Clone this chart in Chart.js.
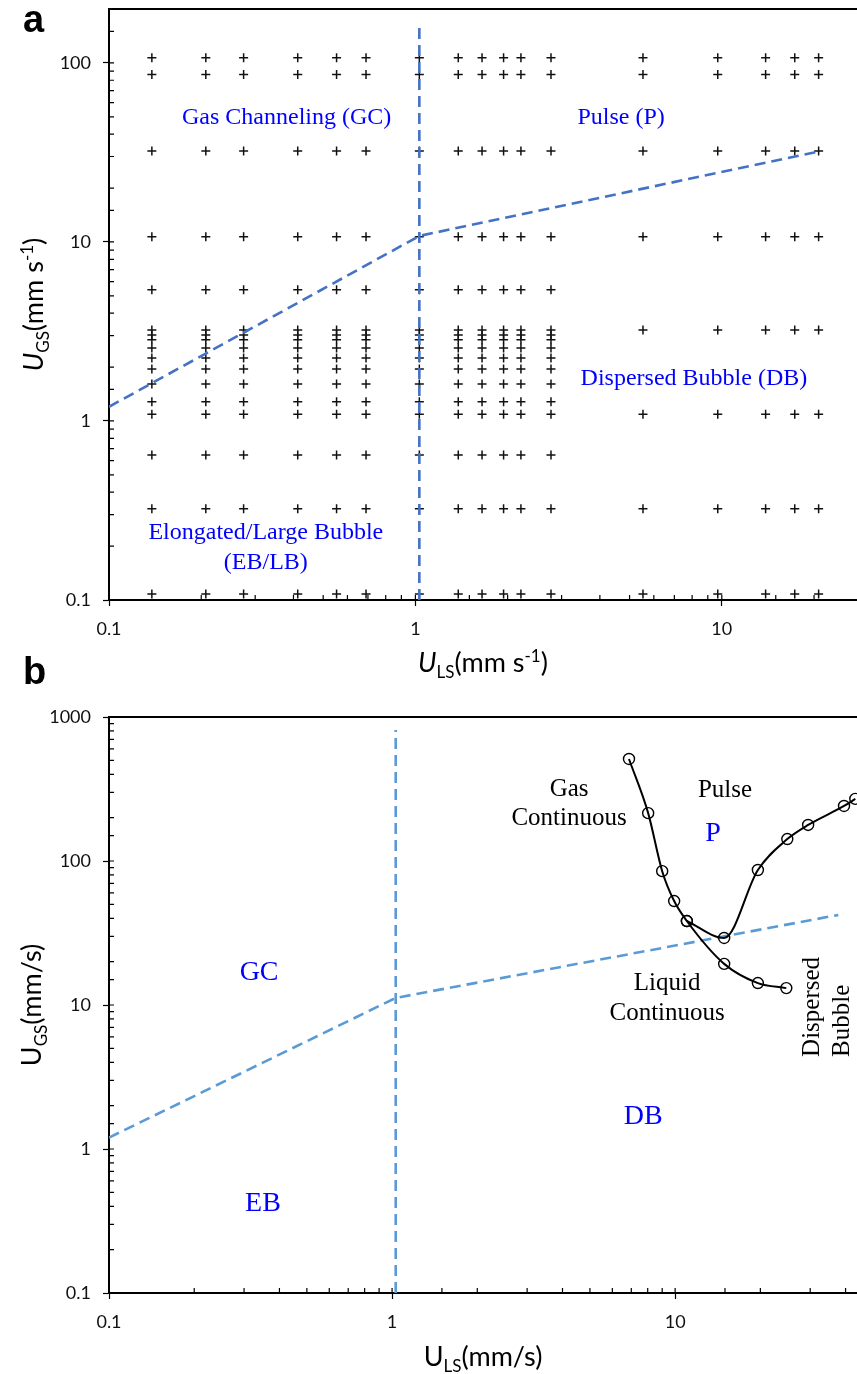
<!DOCTYPE html>
<html>
<head>
<meta charset="utf-8">
<script src="https://cdn.jsdelivr.net/npm/chart.js@4.4.0/dist/chart.umd.min.js"></script>
<style>
  html, body { margin: 0; padding: 0; background: #fff; overflow: hidden; width: 857px; height: 1374px; }
  #wrapA { position: absolute; left: 0; top: -20px; width: 880px; height: 710px; }
  #wrapB { position: absolute; left: 0; top: 650px; width: 890px; height: 724px; }
</style>
</head>
<body>
<div id="wrapA"><canvas id="chartA"></canvas></div>
<div id="wrapB"><canvas id="chartB"></canvas></div>
<script>
// ---- panel a: experimental grid, U_LS and U_GS in mm/s ----
const ulsLow = [0.138, 0.207, 0.275, 0.413, 0.553, 0.69, 1.03, 1.38, 1.65, 1.94, 2.21, 2.77];
const ugsLow = [107, 86, 32.2, 10.7, 5.4, 3.22, 3.02, 2.84, 2.56, 2.25, 1.95, 1.61, 1.28, 1.09, 0.646, 0.323, 0.108];
const ulsHigh = [5.53, 9.7, 13.9, 17.3, 20.7];
const ugsHigh = [107, 86, 32.2, 10.7, 3.22, 1.09, 0.323, 0.108];

// regime boundaries, panel a
const boundA_x = [0.1, 1.03, 20.7];
const boundA_y = [1.2, 10.8, 32];
const vertA_x = [1.03, 1.03];
const vertA_y = [0.1, 163];

// ---- panel b ----
const boundB_x = [0.1, 1.03, 37.7];
const boundB_y = [1.2, 11.2, 42.2];
const vertB_x = [1.03, 1.03];
const vertB_y = [0.1, 813];
const gasLiq_x = [6.87, 8.03, 9.0, 9.92, 11.0, 14.9, 19.6, 24.7];
const gasLiq_y = [511, 215, 85, 52.7, 38.3, 19.3, 14.2, 13.1];
const pulseDb_x = [11.0, 14.9, 19.6, 24.9, 29.5, 39.5, 43.3];
const pulseDb_y = [38.3, 29.2, 86.6, 142, 178, 241, 270];

const zip = (xs, ys) => xs.map((x, i) => ({ x: x, y: ys[i] }));
const grid = (xs, ys) => {
  const pts = [];
  xs.forEach(x => ys.forEach(y => pts.push({ x: x, y: y })));
  return pts;
};

const SANS = 'Lato, "Open Sans", sans-serif';
const SERIF = '"Liberation Serif", "Times New Roman", serif';

function isPow10(v) {
  const l = Math.log10(v);
  return Math.abs(l - Math.round(l)) < 1e-9;
}

function drawRich(ctx, segs, x, y, size, rotate) {
  const fontFor = s => (s.italic ? 'italic ' : '') + ((s.sub || s.sup) ? Math.round(size * 0.62) : size) + 'px ' + SANS;
  ctx.save();
  ctx.translate(x, y);
  if (rotate) ctx.rotate(-Math.PI / 2);
  let total = 0;
  segs.forEach(s => { ctx.font = fontFor(s); total += ctx.measureText(s.t).width; });
  let cx = -total / 2;
  ctx.fillStyle = '#000';
  ctx.textBaseline = 'alphabetic';
  ctx.textAlign = 'left';
  segs.forEach(s => {
    ctx.font = fontFor(s);
    const dy = s.sub ? size * 0.22 : s.sup ? -size * 0.38 : 0;
    ctx.fillText(s.t, cx, dy + size * 0.35);
    cx += ctx.measureText(s.t).width;
  });
  ctx.restore();
}

// inner minor ticks, frame, region labels, axis titles
const decorPlugin = {
  id: 'decor',
  afterDatasetsDraw(chart, args, opts) {
    const ctx = chart.ctx;
    const area = chart.chartArea;
    const xs = chart.scales.x, ys = chart.scales.y;
    ctx.save();
    ctx.strokeStyle = '#000';
    ctx.lineWidth = 1.2;
    ctx.beginPath();
    xs.ticks.forEach(t => {
      const px = xs.getPixelForValue(t.value);
      ctx.moveTo(px, area.bottom);
      ctx.lineTo(px, area.bottom - 5);
    });
    ys.ticks.forEach(t => {
      const py = ys.getPixelForValue(t.value);
      ctx.moveTo(area.left, py);
      ctx.lineTo(area.left + 5, py);
    });
    ctx.stroke();
    ctx.lineWidth = 2;
    ctx.beginPath();
    ctx.moveTo(area.left, area.top);
    ctx.lineTo(area.right, area.top);
    ctx.lineTo(area.right, area.bottom);
    ctx.stroke();

    (opts.labels || []).forEach(l => {
      const px = xs.getPixelForValue(l.x);
      const py = ys.getPixelForValue(l.y);
      ctx.save();
      ctx.translate(px, py);
      if (l.rotate) ctx.rotate(-Math.PI / 2);
      ctx.font = l.size + 'px ' + SERIF;
      ctx.fillStyle = l.color;
      ctx.textAlign = l.align || 'center';
      ctx.textBaseline = 'middle';
      ctx.fillText(l.text, 0, 0);
      ctx.restore();
    });

    const midX = (area.left + Math.min(area.right, 857)) / 2;
    const midY = (area.top + area.bottom) / 2;
    drawRich(ctx, opts.xTitle, midX, opts.xTitleY, opts.titleSize, false);
    drawRich(ctx, opts.yTitle, opts.yTitleX, midY, opts.titleSize, true);

    ctx.font = 'bold 38px "Liberation Sans", Arial, sans-serif';
    ctx.fillStyle = '#000';
    ctx.textAlign = 'left';
    ctx.textBaseline = 'alphabetic';
    ctx.fillText(opts.panel, 23, opts.panelY);
    ctx.restore();
  }
};

function logAxis(min, max, fixed, isX) {
  return {
    type: 'logarithmic',
    min: min,
    max: max,
    border: { color: '#000', width: 2 },
    grid: {
      drawOnChartArea: false,
      drawTicks: true,
      tickLength: 6,
      tickWidth: 1.2,
      tickColor: c => (c.tick && isPow10(c.tick.value)) ? '#000' : 'rgba(0,0,0,0)'
    },
    ticks: {
      autoSkip: false,
      maxRotation: 0,
      padding: isX ? 12 : 12,
      color: '#111',
      font: { family: SANS, size: 18 },
      callback: v => isPow10(v) ? String(Number(v.toPrecision(3))) : ''
    },
    afterFit: s => { if (isX) s.height = fixed; else s.width = fixed; }
  };
}

const dashA = { borderColor: '#4472C4', borderWidth: 2.6, borderDash: [11, 6], pointRadius: 0, showLine: true, fill: false };
const dashB = { borderColor: '#5B9BD5', borderWidth: 2.6, borderDash: [11, 6], pointRadius: 0, showLine: true, fill: false };
const curveStyle = {
  borderColor: '#000', borderWidth: 2, showLine: true, fill: false,
  pointStyle: 'circle', pointRadius: 5.5, pointBorderWidth: 1.4,
  pointBorderColor: '#000', pointBackgroundColor: 'rgba(0,0,0,0)',
  cubicInterpolationMode: 'monotone'
};
const crossStyle = {
  showLine: false, pointStyle: 'cross', pointRadius: 4.5, pointBorderWidth: 1.5,
  pointBorderColor: '#111', borderColor: '#111'
};

new Chart(document.getElementById('chartA'), {
  type: 'scatter',
  data: {
    datasets: [
      Object.assign({ data: zip(boundA_x, boundA_y) }, dashA),
      Object.assign({ data: zip(vertA_x, vertA_y) }, dashA),
      Object.assign({ data: grid(ulsLow, ugsLow) }, crossStyle),
      Object.assign({ data: grid(ulsHigh, ugsHigh) }, crossStyle)
    ]
  },
  options: {
    responsive: true,
    maintainAspectRatio: false,
    animation: false,
    layout: { padding: { top: 29, right: 11, left: 0, bottom: 0 } },
    scales: {
      x: logAxis(0.1, 30, 90, true),
      y: logAxis(0.1, 200, 109, false)
    },
    plugins: {
      legend: { display: false },
      tooltip: { enabled: false },
      decor: {
        panel: 'a', panelY: 52,
        titleSize: 27,
        xTitle: [{ t: 'U', italic: true }, { t: 'LS', sub: true }, { t: '(mm s' }, { t: '-1', sup: true }, { t: ')' }],
        xTitleY: 683,
        yTitle: [{ t: 'U', italic: true }, { t: 'GS', sub: true }, { t: '(mm s' }, { t: '-1', sup: true }, { t: ')' }],
        yTitleX: 34,
        labels: [
          { text: 'Gas Channeling (GC)', x: 0.38, y: 49.3, size: 24, color: '#0000ff' },
          { text: 'Pulse (P)', x: 4.69, y: 49.3, size: 24, color: '#0000ff' },
          { text: 'Dispersed Bubble (DB)', x: 8.11, y: 1.72, size: 24, color: '#0000ff' },
          { text: 'Elongated/Large Bubble', x: 0.325, y: 0.237, size: 24, color: '#0000ff' },
          { text: '(EB/LB)', x: 0.325, y: 0.161, size: 24, color: '#0000ff' }
        ]
      }
    }
  },
  plugins: [decorPlugin]
});

new Chart(document.getElementById('chartB'), {
  type: 'scatter',
  data: {
    datasets: [
      Object.assign({ data: zip(gasLiq_x, gasLiq_y) }, curveStyle),
      Object.assign({ data: zip(pulseDb_x, pulseDb_y) }, curveStyle),
      Object.assign({ data: zip(boundB_x, boundB_y) }, dashB),
      Object.assign({ data: zip(vertB_x, vertB_y) }, dashB)
    ]
  },
  options: {
    responsive: true,
    maintainAspectRatio: false,
    animation: false,
    layout: { padding: { top: 67, right: 17, left: 0, bottom: 0 } },
    scales: {
      x: logAxis(0.1, 50, 81, true),
      y: logAxis(0.1, 1000, 109, false)
    },
    plugins: {
      legend: { display: false },
      tooltip: { enabled: false },
      decor: {
        panel: 'b', panelY: 34,
        titleSize: 27,
        xTitle: [{ t: 'U' }, { t: 'LS', sub: true }, { t: '(mm/s)' }],
        xTitleY: 707,
        yTitle: [{ t: 'U' }, { t: 'GS', sub: true }, { t: '(mm/s)' }],
        yTitleX: 32,
        labels: [
          { text: 'Gas', x: 4.22, y: 316, size: 25, color: '#000' },
          { text: 'Continuous', x: 4.22, y: 199, size: 25, color: '#000' },
          { text: 'Pulse', x: 15.0, y: 311, size: 25, color: '#000' },
          { text: 'P', x: 13.6, y: 156, size: 28, color: '#0000ff' },
          { text: 'Liquid', x: 9.37, y: 14.2, size: 25, color: '#000' },
          { text: 'Continuous', x: 9.37, y: 8.8, size: 25, color: '#000' },
          { text: 'Dispersed', x: 30.5, y: 4.36, size: 25, color: '#000', rotate: true, align: 'left' },
          { text: 'Bubble', x: 38.9, y: 4.36, size: 25, color: '#000', rotate: true, align: 'left' },
          { text: 'GC', x: 0.339, y: 16.7, size: 28, color: '#0000ff' },
          { text: 'EB', x: 0.35, y: 0.42, size: 28, color: '#0000ff' },
          { text: 'DB', x: 7.71, y: 1.69, size: 28, color: '#0000ff' }
        ]
      }
    }
  },
  plugins: [decorPlugin]
});
</script>
</body>
</html>
